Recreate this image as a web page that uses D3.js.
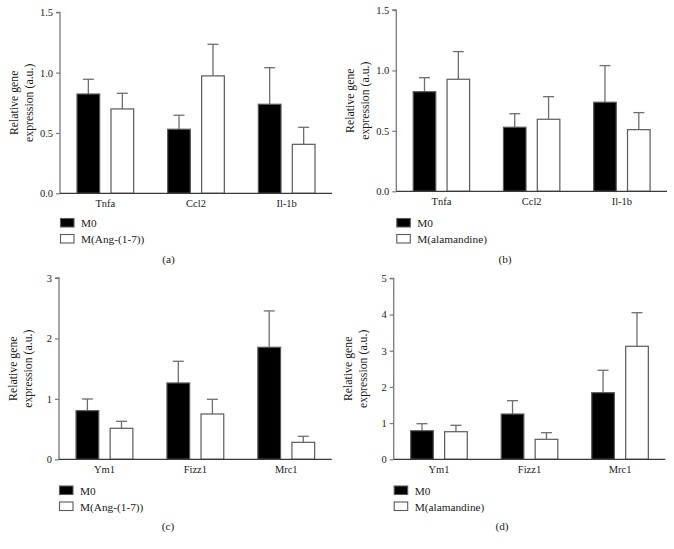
<!DOCTYPE html>
<html>
<head>
<meta charset="utf-8">
<script src="https://cdn.jsdelivr.net/npm/d3@7"></script>
<style>
  html, body { margin: 0; padding: 0; background: #fff; }
  svg { display: block; }
  text { font-family: "Liberation Serif", "Times New Roman", serif; fill: #1a1a1a; }
</style>
</head>
<body>
<script>
// ---------- data ----------
const seriesKeys = ["M0", "treated"];
const catsTop = ["Tnfa", "Ccl2", "Il-1b"];
const catsBottom = ["Ym1", "Fizz1", "Mrc1"];

// Panel (a): M0 vs M(Ang-(1-7))
const aM0 = [0.823, 0.531, 0.738];
const aM0err = [0.945, 0.647, 1.041];
const aTr = [0.699, 0.973, 0.406];
const aTrErr = [0.829, 1.235, 0.547];

// Panel (b): M0 vs M(alamandine)
const bM0 = [0.824, 0.530, 0.737];
const bM0err = [0.940, 0.642, 1.040];
const bTr = [0.927, 0.596, 0.510];
const bTrErr = [1.156, 0.783, 0.651];

// Panel (c): M0 vs M(Ang-(1-7))
const cM0 = [0.805, 1.263, 1.854];
const cM0err = [0.998, 1.622, 2.455];
const cTr = [0.513, 0.750, 0.281];
const cTrErr = [0.629, 0.993, 0.381];

// Panel (d): M0 vs M(alamandine)
const dM0 = [0.790, 1.251, 1.840];
const dM0err = [0.983, 1.619, 2.459];
const dTr = [0.762, 0.552, 3.122];
const dTrErr = [0.939, 0.735, 4.050];

const ticksA = [0, 0.5, 1.0, 1.5];
const ticksC = [0, 1, 2, 3];
const ticksD = [0, 1, 2, 3, 4, 5];

const legendAng = ["M0", "M(Ang-(1-7))"];
const legendAla = ["M0", "M(alamandine)"];

const panels = [
  {cats: catsTop, m0: aM0, m0e: aM0err, tr: aTr, tre: aTrErr, ticks: ticksA, fmt: d3.format(".1f"),
   x: [60, 332], y: [193.3, 12.3], legend: legendAng, caption: "(a)", capX: 168.5, legY: 218.5, capY: 263},
  {cats: catsTop, m0: bM0, m0e: bM0err, tr: bTr, tre: bTrErr, ticks: ticksA, fmt: d3.format(".1f"),
   x: [396.3, 667], y: [191.3, 10], legend: legendAla, caption: "(b)", capX: 505, legY: 218.5, capY: 263},
  {cats: catsBottom, m0: cM0, m0e: cM0err, tr: cTr, tre: cTrErr, ticks: ticksC, fmt: d3.format("d"),
   x: [59, 331.7], y: [459.3, 278], legend: legendAng, caption: "(c)", capX: 168, legY: 486, capY: 530},
  {cats: catsBottom, m0: dM0, m0e: dM0err, tr: dTr, tre: dTrErr, ticks: ticksD, fmt: d3.format("d"),
   x: [393.7, 665.3], y: [459.3, 278.3], legend: legendAla, caption: "(d)", capX: 502, legY: 486, capY: 530}
];

const W = 674, H = 549;
const svg = d3.select("body").append("svg").attr("width", W).attr("height", H);

const fills = {M0: "#000", treated: "#fff"};

panels.forEach(p => {
  const g = svg.append("g");
  const yMax = p.ticks[p.ticks.length - 1];
  const y = d3.scaleLinear().domain([0, yMax]).range(p.y);
  const x0 = d3.scaleBand().domain(p.cats).range(p.x).padding(0);
  const x1 = d3.scaleBand().domain(seriesKeys).range([0, x0.bandwidth()])
    .paddingInner(0.333).paddingOuter(0.5);

  const rows = p.cats.map((c, i) => ({
    cat: c,
    vals: [
      {key: "M0", v: p.m0[i], e: p.m0e[i]},
      {key: "treated", v: p.tr[i], e: p.tre[i]}
    ]
  }));

  // error bars (drawn behind bars)
  const capW = 11;
  rows.forEach(r => {
    r.vals.forEach(d => {
      const cx = x0(r.cat) + x1(d.key) + x1.bandwidth() / 2;
      g.append("line").attr("x1", cx).attr("x2", cx)
        .attr("y1", y(d.v)).attr("y2", y(d.e))
        .attr("stroke", "#6e6e6e").attr("stroke-width", 1.3);
      g.append("line").attr("x1", cx - capW / 2).attr("x2", cx + capW / 2)
        .attr("y1", y(d.e)).attr("y2", y(d.e))
        .attr("stroke", "#6e6e6e").attr("stroke-width", 1.3);
    });
  });

  // bars
  rows.forEach(r => {
    g.selectAll(null).data(r.vals).enter().append("rect")
      .attr("x", d => x0(r.cat) + x1(d.key))
      .attr("y", d => y(d.v))
      .attr("width", x1.bandwidth())
      .attr("height", d => y(0) - y(d.v))
      .attr("fill", d => fills[d.key])
      .attr("stroke", "#5a5a5a")
      .attr("stroke-width", 1.2);
  });

  // y axis
  const yAxis = d3.axisLeft(y).tickValues(p.ticks).tickFormat(p.fmt).tickSize(4).tickPadding(3);
  const ya = g.append("g").attr("transform", `translate(${p.x[0]},0)`).call(yAxis);
  ya.select(".domain").attr("stroke", "#7a7a7a").attr("stroke-width", 1.3)
    .attr("d", `M-4,${p.y[1]}H0V${p.y[0]}`);
  ya.selectAll(".tick line").attr("stroke", "#7a7a7a").attr("stroke-width", 1.2);
  ya.selectAll(".tick text").style("font-family", "Liberation Serif").style("font-size", "10.5px").attr("fill", "#1a1a1a");

  // x axis
  const xAxis = d3.axisBottom(x0).tickSize(0).tickPadding(6);
  const xa = g.append("g").attr("transform", `translate(0,${p.y[0]})`).call(xAxis);
  xa.select(".domain").attr("stroke", "#3a3a3a").attr("stroke-width", 1.3)
    .attr("d", `M${p.x[0]},0H${p.x[1]}`);
  xa.selectAll(".tick text").style("font-family", "Liberation Serif").style("font-size", "10.5px").attr("fill", "#1a1a1a");

  // y label
  const cy = (p.y[0] + p.y[1]) / 2;
  const lab = g.append("text")
    .attr("transform", `translate(${p.x[0] - 42},${cy}) rotate(-90)`)
    .attr("text-anchor", "middle")
    .style("font-size", "11.8px");
  lab.append("tspan").attr("x", 0).attr("dy", 0).text("Relative gene");
  lab.append("tspan").attr("x", 0).attr("dy", 15).text("expression (a.u.)");

  // legend
  const lg = g.append("g").attr("transform", `translate(${p.x[0] + 0.5},${p.legY})`);
  p.legend.forEach((t, i) => {
    lg.append("rect").attr("x", 0).attr("y", i * 16).attr("width", 13.5).attr("height", 8.5)
      .attr("fill", fills[seriesKeys[i]]).attr("stroke", "#5a5a5a").attr("stroke-width", 1.1);
    lg.append("text").attr("x", 20.5).attr("y", i * 16 + 8.5)
      .style("font-size", "11.3px").text(t);
  });

  // caption
  g.append("text").attr("x", p.capX).attr("y", p.capY).attr("text-anchor", "middle")
    .style("font-size", "11.3px").text(p.caption);
});
</script>
</body>
</html>
